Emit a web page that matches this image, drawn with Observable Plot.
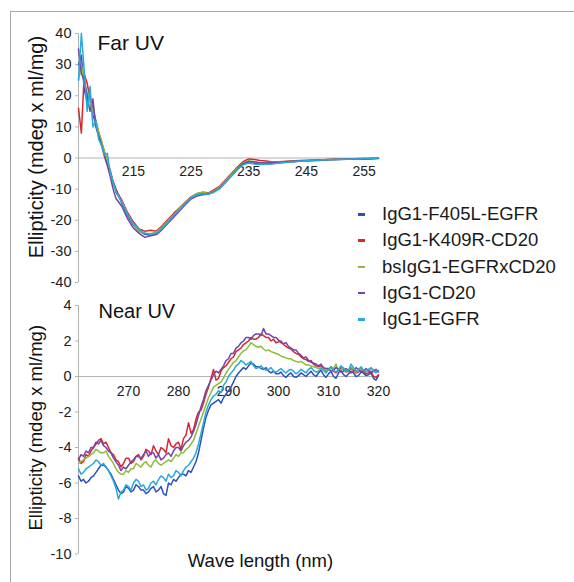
<!DOCTYPE html>
<html><head><meta charset="utf-8">
<script src="https://cdn.jsdelivr.net/npm/d3@7"></script>
<script src="https://cdn.jsdelivr.net/npm/@observablehq/plot@0.6"></script>
<style>
body{margin:0;background:#fff;}
#wrap{position:relative;width:574px;height:582px;overflow:hidden;font-family:"Liberation Sans",Arial,sans-serif;}
#frame{position:absolute;left:10px;top:11px;width:600px;height:600px;border-left:1.5px solid #aaa;border-top:1.5px solid #aaa;}
.p{position:absolute;left:0;}
#legend{position:absolute;left:356px;top:201px;font-size:18.5px;color:#1a1a1a;}
.row{position:absolute;left:0;white-space:nowrap;height:26px;line-height:26px;}
.sw{position:absolute;left:2px;top:12px;width:7px;height:2.5px;}
.lab{position:absolute;left:26px;top:0;}
</style></head>
<body>
<div id="wrap"><div id="frame"></div><div id="legend"></div></div>
<script>
const seriesNames = ["IgG1-F405L-EGFR","IgG1-K409R-CD20","bsIgG1-EGFRxCD20","IgG1-CD20","IgG1-EGFR"];
const seriesColors = ["#2b4fc4","#d7282f","#8dbb3a","#7444a8","#27a9dc"];

const farTitle = "Far UV", nearTitle = "Near UV";
const yLabel = "Ellipticity (mdeg x ml/mg)";
const xLabel = "Wave length (nm)";
const farXTicks = [215,225,235,245,255];
const farYTicks = [-40,-30,-20,-10,0,10,20,30,40];
const nearXTicks = [270,280,290,300,310,320];
const nearYTicks = [-10,-8,-6,-4,-2,0,2,4];

const farWl = [205.5,206,206.5,207,207.5,208,208.5,209,209.5,210,210.5,211,211.5,212,
213,214,215,216,217,218,219,220,221,222,223,224,225,226,227,228,229,230,231,232,233,234,235,236,237,238,239,240,
241,242,243,244,245,246,247,248,249,250,251,252,253,254,255,256,257,257.5];
const farF405L = [30,33,22,18,20,14,11,8,5,2,-1,-4,-7.5,-10,
-14.5,-18.5,-21.5,-23.5,-24.5,-24.8,-24,-22.5,-20.5,-18.8,-16.5,-14.8,-13,-12,-11.3,-11.5,-10.8,-9.6,-7.6,-5.6,-3.6,-2,-1.5,-1.8,-2,-1.9,-1.8,-1.6,
-1.4,-1.3,-1.2,-1,-0.9,-0.8,-0.8,-0.7,-0.6,-0.5,-0.5,-0.4,-0.4,-0.3,-0.3,-0.3,-0.2,-0.2];
const farK409R = [16,8,27,24,19,16,12,8,5,1.5,-1.5,-5,-8,-10.5,
-13.5,-17.5,-20.5,-22.8,-23.5,-23.2,-23.5,-21.8,-19.8,-17.8,-16,-14.2,-12.5,-11.5,-11,-11.2,-10.2,-9,-7,-5,-3,-1.2,-0.3,-0.5,-0.8,-1,-1.2,-1.2,
-1.1,-1,-0.9,-0.8,-0.8,-0.7,-0.6,-0.6,-0.5,-0.4,-0.4,-0.3,-0.3,-0.2,-0.2,-0.2,-0.1,-0.1];
const farBs = [25,30,24,21,18,15,12,8.5,5.5,2,-1,-4.5,-8,-11,
-14,-18,-21.2,-23.6,-24.2,-24.3,-23.8,-22.2,-20.2,-18.3,-16.2,-14.5,-12.6,-11.4,-11,-11.4,-10.5,-9.3,-7.3,-5.3,-3.3,-1.6,-0.9,-1.2,-1.5,-1.5,-1.4,-1.3,
-1.2,-1.1,-1,-0.9,-0.8,-0.7,-0.7,-0.6,-0.5,-0.5,-0.4,-0.4,-0.3,-0.3,-0.2,-0.2,-0.2,-0.1];
const farCD20 = [35,27,25,20,15,19,10,7,4,0.5,-2.5,-6,-10,-13,
-15.5,-19.5,-22.5,-24.2,-25.5,-25,-24.6,-23,-21,-19,-17,-15,-13.2,-12.2,-11.8,-11.6,-10.8,-9.6,-7.8,-5.8,-3.6,-1.8,-1.1,-1.3,-1.6,-1.6,-1.5,-1.4,
-1.3,-1.1,-1,-0.9,-0.8,-0.8,-0.7,-0.6,-0.5,-0.5,-0.4,-0.4,-0.3,-0.3,-0.3,-0.2,-0.2,-0.1];
const farEGFR = [25,40,28,15,23,10,12,6,4,1,1.5,-5,-8,-11,
-14,-18.2,-21,-23,-24.2,-24.5,-24.2,-22.6,-20.6,-18.5,-16.6,-14.6,-12.8,-11.8,-11.4,-11.7,-11,-9.8,-7.8,-5.8,-3.8,-2.2,-1.6,-1.9,-2.1,-2,-1.9,-1.7,
-1.5,-1.3,-1.1,-1,-0.9,-0.8,-0.7,-0.6,-0.6,-0.5,-0.4,-0.4,-0.3,-0.3,-0.2,-0.2,-0.1,0];

const nearWl = [260,260.5,261,261.5,262,262.5,263,263.5,264,264.5,
265,265.5,266,266.5,267,267.5,268,268.5,269,269.5,
270,270.5,271,271.5,272,272.5,273,273.5,274,274.5,
275,275.5,276,276.5,277,277.5,278,278.5,279,279.5,
280,280.5,281,281.5,282,282.5,283,283.5,284,284.5,
285,285.5,286,286.5,287,287.5,288,288.5,289,289.5,
290,290.5,291,291.5,292,292.5,293,293.5,294,294.5,
295,295.5,296,296.5,297,297.5,298,298.5,299,299.5,
300,300.5,301,301.5,302,302.5,303,303.5,304,304.5,
305,305.5,306,306.5,307,307.5,308,308.5,309,309.5,
310,310.5,311,311.5,312,312.5,313,313.5,314,314.5,
315,315.5,316,316.5,317,317.5,318,318.5,319,319.5,320];
const nearF405L = [-5.6,-5.9,-5.8,-6.0,-5.9,-5.7,-5.6,-5.4,-5.2,-5.0,
-5.0,-5.1,-5.3,-5.5,-5.8,-6.1,-6.4,-6.6,-6.5,-6.2,
-6.3,-6.5,-6.4,-6.1,-6.2,-6.4,-6.4,-6.6,-6.5,-6.3,
-6.2,-6.5,-6.4,-6.2,-6.6,-6.7,-6.0,-6.1,-5.8,-5.9,
-5.7,-5.5,-5.5,-5.6,-5.3,-5.4,-5.1,-4.8,-4.3,-3.6,
-2.9,-2.3,-1.9,-1.6,-1.5,-1.4,-1.3,-1.5,-1.2,-1.0,
-0.8,-0.6,-0.3,0.0,0.2,0.35,0.5,0.4,0.6,0.75,
0.7,0.55,0.55,0.45,0.4,0.5,0.3,0.2,0.3,0.15,
0.15,0.25,0.05,-0.05,0.1,0.2,0.0,-0.05,0.05,0.2,
0.1,0.0,0.15,0.3,0.1,0.0,0.2,0.35,0.1,-0.05,
0.15,0.3,0.0,-0.1,0.2,0.35,0.1,0.0,0.15,0.3,
0.2,0.0,0.05,0.25,0.2,0.05,0.1,0.2,-0.1,-0.2,0.05];
const nearK409R = [-4.6,-4.9,-4.8,-4.4,-4.5,-4.2,-4.0,-3.8,-3.6,-3.5,
-3.8,-3.7,-4.0,-4.3,-4.4,-4.7,-4.8,-5.1,-4.9,-4.6,
-4.6,-4.9,-4.8,-4.5,-4.4,-4.7,-4.5,-4.1,-4.2,-4.4,
-3.9,-4.2,-4.4,-4.0,-4.1,-4.3,-3.5,-3.9,-4.0,-3.8,
-3.7,-4.1,-3.5,-3.3,-2.6,-3.2,-3.0,-2.4,-2.0,-1.9,
-1.5,-1.0,-0.6,-0.1,0.4,-0.2,-0.1,0.3,0.5,0.6,
0.8,1.0,1.1,1.4,1.5,1.6,1.8,1.9,2.0,2.2,
2.1,2.1,2.2,2.4,2.3,2.2,2.2,2.0,2.1,1.9,
1.95,2.0,1.8,1.7,1.6,1.55,1.4,1.3,1.25,1.1,
1.0,0.95,0.85,0.9,0.7,0.6,0.55,0.6,0.45,0.3,
0.4,0.55,0.3,0.2,0.35,0.5,0.4,0.25,0.3,0.45,
0.35,0.2,0.25,0.4,0.3,0.15,0.2,0.3,0.0,-0.05,0.1];
const nearBs = [-4.9,-4.8,-4.7,-4.6,-4.5,-4.4,-4.3,-4.1,-4.2,-4.3,
-4.3,-4.2,-4.5,-4.7,-4.9,-5.2,-5.4,-5.5,-5.5,-5.3,
-5.4,-5.2,-5.2,-4.9,-5.0,-5.1,-4.9,-4.8,-5.0,-5.1,
-4.8,-4.7,-4.9,-5.0,-4.9,-4.8,-4.7,-4.8,-4.6,-4.4,
-4.5,-4.3,-4.3,-4.1,-4.0,-3.8,-3.6,-3.2,-2.8,-2.4,
-2.0,-1.6,-1.2,-0.9,-0.6,-0.5,-0.4,-0.3,-0.1,0.2,
0.4,0.6,0.8,0.9,1.1,1.3,1.45,1.5,1.7,1.9,
1.8,1.7,1.65,1.7,1.55,1.45,1.5,1.4,1.35,1.3,
1.25,1.15,1.1,1.05,1.0,1.0,0.9,0.85,0.8,0.85,
0.75,0.65,0.65,0.6,0.55,0.5,0.45,0.5,0.4,0.35,
0.35,0.55,0.45,0.7,0.3,0.4,0.5,0.3,0.35,0.55,
0.4,0.25,0.3,0.45,0.35,0.3,0.3,0.45,0.4,0.25,0.3];
const nearCD20 = [-4.7,-4.4,-4.5,-4.2,-4.3,-4.0,-4.0,-3.7,-3.8,-3.6,
-3.9,-4.0,-4.2,-4.3,-4.6,-4.8,-5.0,-5.3,-5.1,-5.2,
-5.0,-4.8,-4.7,-4.5,-4.5,-4.6,-4.4,-4.2,-4.5,-4.3,
-4.3,-4.6,-4.4,-4.7,-4.6,-4.4,-4.3,-4.5,-4.2,-4.0,
-4.0,-4.2,-3.9,-3.7,-3.6,-3.4,-3.1,-2.7,-2.2,-1.7,
-1.3,-0.8,-0.5,-0.2,0.1,0.3,0.2,0.4,0.6,0.9,
1.0,1.3,1.3,1.6,1.7,1.9,2.0,2.2,2.2,2.1,
2.3,2.4,2.4,2.3,2.7,2.4,2.4,2.3,2.2,2.2,
2.05,1.9,1.85,1.9,1.7,1.6,1.5,1.5,1.3,1.2,
1.05,1.1,0.9,0.8,0.75,0.7,0.6,0.7,0.5,0.45,
0.45,0.3,0.35,0.5,0.4,0.25,0.3,0.45,0.35,0.2,
0.3,0.5,0.4,0.25,0.3,0.45,0.35,0.2,0.3,0.4,0.25];
const nearEGFR = [-5.2,-5.5,-5.4,-5.2,-5.1,-5.0,-4.9,-4.7,-4.8,-5.0,
-4.9,-5.1,-5.3,-5.6,-5.9,-6.3,-6.9,-6.5,-6.4,-6.1,
-6.2,-6.4,-6.0,-5.8,-5.9,-6.2,-6.1,-6.4,-6.3,-6.0,
-5.9,-6.1,-5.8,-5.6,-5.7,-5.9,-5.5,-5.7,-5.6,-5.3,
-5.4,-5.6,-5.3,-5.1,-5.0,-4.8,-4.6,-4.3,-3.8,-3.2,
-2.6,-2.0,-1.6,-1.3,-1.1,-1.0,-0.8,-0.9,-0.5,-0.3,
0.0,0.2,0.35,0.6,0.7,0.9,0.8,0.65,0.75,0.85,
0.6,0.45,0.5,0.6,0.45,0.35,0.4,0.5,0.3,0.25,
0.35,0.45,0.3,0.2,0.35,0.4,0.3,0.15,0.25,0.4,
0.3,0.2,0.4,0.5,0.35,0.25,0.3,0.45,0.35,0.2,
0.4,0.55,0.35,0.25,0.4,0.6,0.45,0.3,0.35,0.7,
0.5,0.3,0.4,0.55,0.35,0.25,0.4,0.5,0.3,0.2,0.35];

const farSeries = [farF405L, farK409R, farBs, farCD20, farEGFR];
const nearSeries = [nearF405L, nearK409R, nearBs, nearCD20, nearEGFR];

function tidy(wl, series) {
  const out = [];
  series.forEach((vals, i) => vals.forEach((v, j) => out.push({wl: wl[j], v, s: seriesNames[i]})));
  return out;
}
const farData = tidy(farWl, farSeries);
const nearData = tidy(nearWl, nearSeries);

const font = '"Liberation Sans", Arial, sans-serif';
const axisGray = "#b3b3b3";

function panel({data, xDomain, yDomain, xTicks, yTicks, height, mt, mb, title, titleSize, titleDx, titleDy, labelSize, labelDy, xLabDy, xLab}) {
  const marks = [
    Plot.ruleY([0], {stroke: axisGray, strokeWidth: 1}),
    Plot.ruleX([xDomain[0]], {stroke: axisGray, strokeWidth: 1}),
    Plot.axisY(yTicks, {tickSize: 3, tickPadding: 4, stroke: axisGray, fill: "#222", fontSize: 14.5, tickFormat: d => String(d), label: null}),
    Plot.text(xTicks, {x: d => d, y: () => 0, text: d => String(d), dy: xLabDy, fill: "#222", fontSize: 14, lineAnchor: "middle"}),
    Plot.line(data, {x: "wl", y: "v", z: "s", stroke: "s", strokeWidth: 1.5, strokeLinejoin: "round"}),
    Plot.text([title], {frameAnchor: "top-left", dx: titleDx, dy: titleDy, textAnchor: "start", lineAnchor: "middle", fontSize: titleSize, fill: "#111"}),
    Plot.text([yLabel], {frameAnchor: "left", textAnchor: "middle", lineAnchor: "middle", dx: -42, dy: labelDy, rotate: -90, fontSize: labelSize, fill: "#111"})
  ];
  if (xLab) marks.push(Plot.text([xLabel], {frameAnchor: "bottom", textAnchor: "middle", dx: 32, dy: 7, lineAnchor: "middle", fontSize: 18.5, fill: "#111"}));
  return Plot.plot({
    width: 574, height,
    marginLeft: 78, marginRight: 196, marginTop: mt, marginBottom: mb,
    style: {background: "transparent", overflow: "visible", fontFamily: font},
    x: {domain: xDomain, axis: null},
    y: {domain: yDomain},
    color: {domain: seriesNames, range: seriesColors},
    marks
  });
}

const topPlot = panel({data: farData, xDomain: [205.5, 257.5], yDomain: [-40, 40], xTicks: farXTicks, yTicks: farYTicks,
  height: 290, mt: 33, mb: 8, title: farTitle, titleSize: 21, titleDx: 19, titleDy: 9.5, labelSize: 20, labelDy: -11, xLabDy: 13.5, xLab: false});
const botPlot = panel({data: nearData, xDomain: [260, 320], yDomain: [-10, 4], xTicks: nearXTicks, yTicks: nearYTicks,
  height: 292, mt: 15, mb: 28.5, title: nearTitle, titleSize: 20, titleDx: 20, titleDy: 6.5, labelSize: 18.5, labelDy: -2, xLabDy: 15, xLab: true});

const wrap = document.getElementById("wrap");
topPlot.classList.add("p"); topPlot.style.top = "0px";
botPlot.classList.add("p"); botPlot.style.top = "290px";
wrap.appendChild(topPlot);
wrap.appendChild(botPlot);

const legend = document.getElementById("legend");
seriesNames.forEach((name, i) => {
  const row = document.createElement("div");
  row.className = "row";
  row.style.top = (i * 26.3) + "px";
  const sw = document.createElement("span");
  sw.className = "sw";
  sw.style.background = seriesColors[i];
  const lab = document.createElement("span");
  lab.className = "lab";
  lab.textContent = name;
  row.appendChild(sw); row.appendChild(lab);
  legend.appendChild(row);
});
</script>
</body></html>
